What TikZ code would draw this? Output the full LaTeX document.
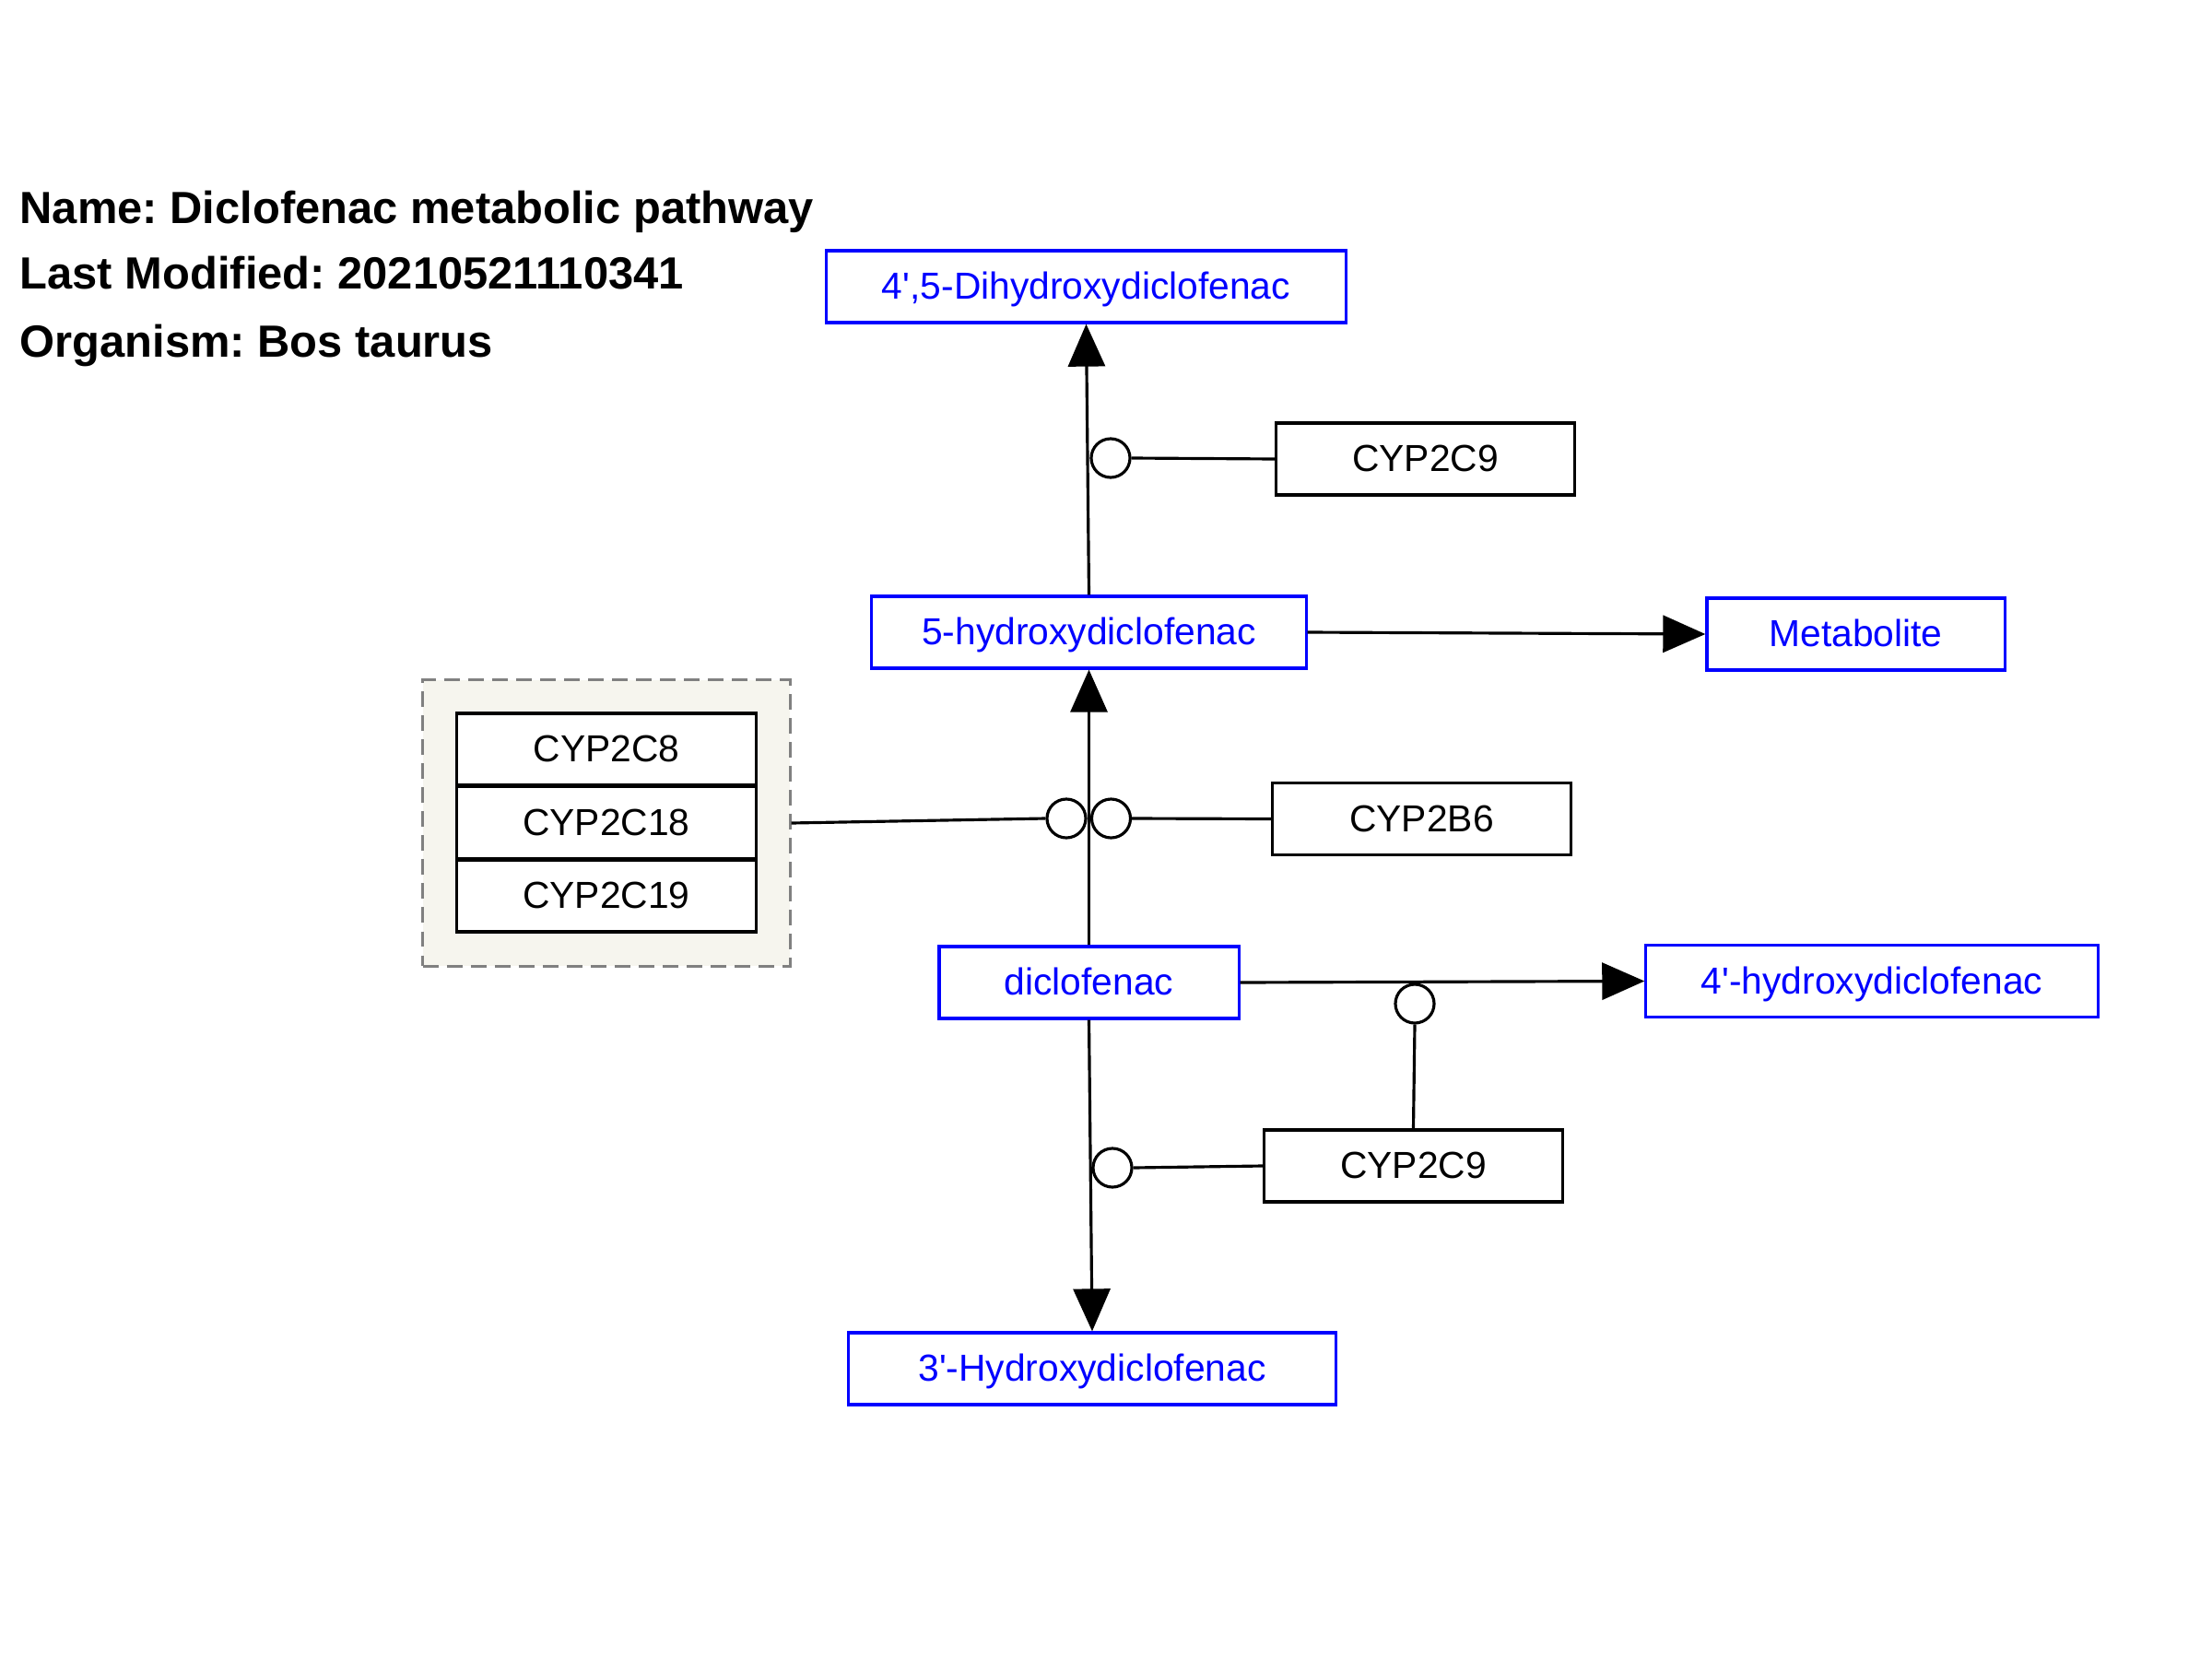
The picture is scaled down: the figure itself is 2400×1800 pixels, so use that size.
\documentclass[tikz,border=0pt]{standalone}
\usepackage{fontspec}
\setmainfont{Liberation Sans}[Ligatures=TeXOff]
\usetikzlibrary{arrows.meta,positioning,calc}
\definecolor{metabcol}{RGB}{0,0,255}
\definecolor{grpfill}{RGB}{246,245,238}
\definecolor{grpline}{RGB}{128,128,128}
\frenchspacing

\tikzset{
  metabox/.style={draw=metabcol,text=metabcol,line width=0.9pt,minimum height=0.78cm,
    inner sep=0pt,text height=0.33cm,text depth=0.06cm,font=\fontsize{11.6}{14}\selectfont},
  genebox/.style={draw=black,fill=white,line width=0.9pt,minimum height=0.78cm,minimum width=3.24cm,
    inner sep=0pt,text height=0.33cm,text depth=0.06cm,font=\fontsize{11.6}{14}\selectfont},
  conv/.style={line width=0.9pt,-{Triangle[length=0.46cm,width=0.40cm]}},
  catal/.style={line width=0.9pt},
  modc/.style={circle,draw,line width=0.9pt,fill=white,minimum size=0.42cm,inner sep=0pt},
  ttl/.style={anchor=base west,inner sep=0pt,font=\fontsize{13.9}{17}\selectfont\bfseries}
}

\begin{document}
\begin{tikzpicture}[x=0.01cm,y=-0.01cm]
\useasboundingbox[fill=white] (0,0) rectangle (2400,1800);

% header
\node[ttl] (ttlname) at (21,242) {Name: Diclofenac metabolic pathway};
\node[ttl] (ttldate) at (21,314) {Last Modified: 20210521110341};
\node[ttl] (ttlorg) at (21,387) {Organism: Bos taurus};

% metabolites
\node[metabox,minimum width=5.63cm] (dihydroxy) at (1178.5,311) {4',5-Dihydroxydiclofenac};
\node[metabox,minimum width=4.71cm] (ohfive) at (1181.5,686) {5-hydroxydiclofenac};
\node[metabox,minimum width=3.23cm] (metabolite) at (2013.5,688) {Metabolite};
\node[metabox,minimum width=3.25cm] (dcf) at (1181.5,1066) {diclofenac};
\node[metabox,minimum width=4.90cm] (ohfourp) at (2031,1064.5) {4'-hydroxydiclofenac};
\node[metabox,minimum width=5.28cm] (ohthreep) at (1185,1485) {3'-Hydroxydiclofenac};

% enzymes
\node[genebox] (cypninea) at (1546.5,498) {CYP2C9};
\node[genebox] (cyptwobsix) at (1542.5,888.5) {CYP2B6};
\node[genebox] (cypnineb) at (1533.5,1265) {CYP2C9};

% enzyme group
\node[draw=grpline,fill=grpfill,line width=0.9pt,dash pattern=on 4.8pt off 2.6pt,
  minimum width=3.98cm,minimum height=3.10cm,inner sep=0pt] (grp) at (658,893) {};
\foreach \nm/\lb [count=\i] in {cypeight/CYP2C8,cypeighteen/CYP2C18,cypnineteen/CYP2C19}{
  \node[genebox] (\nm) at (658,{813+79.5*(\i-1)}) {\lb};
}

% conversions
\draw[conv] (dcf.north) -- (ohfive.south);
\draw[conv] (ohfive.north) -- (dihydroxy.south);
\draw[conv] (ohfive.east) -- (metabolite.west);
\draw[conv] (dcf.east) -- (ohfourp.west);
\draw[conv] (dcf.south) -- (ohthreep.north);

% catalysis
\node[modc] (cinA) at (1205,497) {};
\node[modc] (cinB) at (1157,888) {};
\node[modc] (cinC) at (1205.5,888) {};
\node[modc] (cinD) at (1535,1089) {};
\node[modc] (cinE) at (1207,1267) {};
\draw[catal] (cypninea.west) -- (cinA.east);
\draw[catal] (grp.east) -- (cinB.west);
\draw[catal] (cyptwobsix.west) -- (cinC.east);
\draw[catal] (cypnineb.north) -- (cinD.south);
\draw[catal] (cypnineb.west) -- (cinE.east);
\end{tikzpicture}
\end{document}
